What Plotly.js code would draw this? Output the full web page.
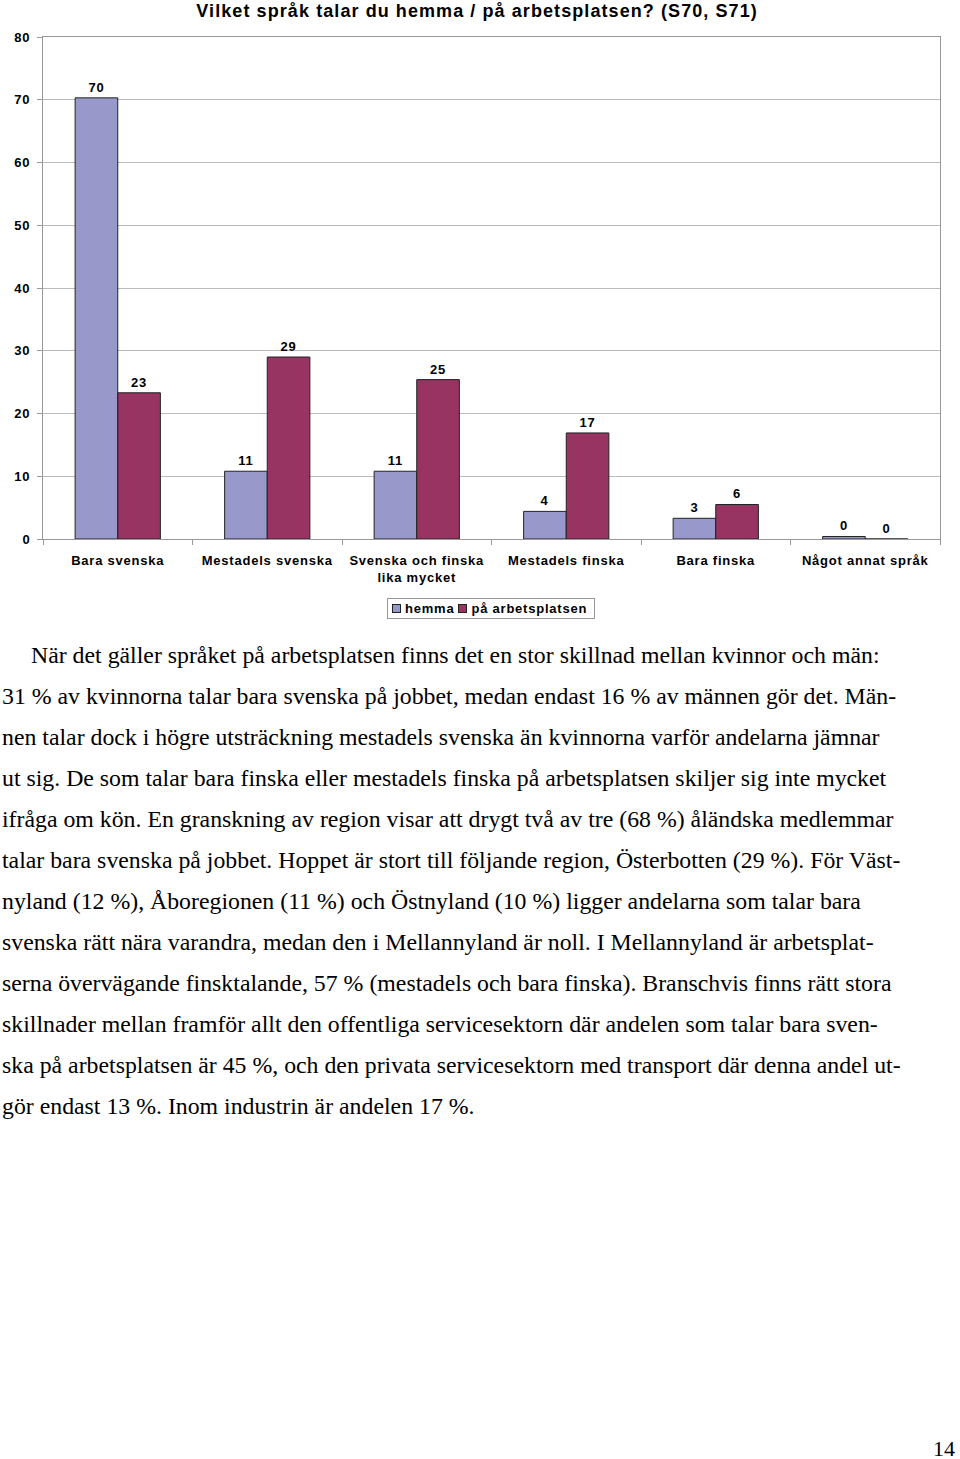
<!DOCTYPE html>
<html><head><meta charset="utf-8">
<script src="https://cdn.plot.ly/plotly-3.0.1.min.js"></script>
<style>
body{margin:0;padding:0;background:#fff;width:960px;height:1459px;position:relative;overflow:hidden}
#chart{position:absolute;left:0;top:0;width:960px;height:630px}
.ln{position:absolute;left:2px;font-family:"Liberation Serif","Times New Roman",serif;font-size:23.8px;color:#000;white-space:nowrap;line-height:26px}
#pg{position:absolute;right:5px;top:1436px;font-family:"Liberation Serif",serif;font-size:22px;line-height:26px}
#legend{position:absolute;left:387px;top:598px;width:206px;height:19px;border:1px solid #999;background:#fff;
  font-family:"Liberation Sans",Arial,sans-serif;font-weight:bold;font-size:13px;letter-spacing:0.06em;line-height:19px;white-space:nowrap}
#legend .sw{display:inline-block;width:7px;height:7px;border:1px solid #222;margin:0 4px 0 4px;vertical-align:0px}
</style></head>
<body>
<div id="chart"></div>
<div id="legend"></div>
<div id="text"></div>
<div id="pg">14</div>
<script>
const categories = ["Bara svenska","Mestadels svenska","Svenska och finska<br>lika mycket","Mestadels finska","Bara finska","Något annat språk"];
const hemma = [70.3, 10.8, 10.8, 4.4, 3.3, 0.4];
const arbetsplatsen = [23.3, 29.0, 25.4, 16.9, 5.5, 0];
const seriesNames = ["hemma","på arbetsplatsen"];
const yTicks = [0,10,20,30,40,50,60,70,80];
const titleText = "Vilket språk talar du hemma / på arbetsplatsen? (S70, S71)";
const paragraphLines = [
"När det gäller språket på arbetsplatsen finns det en stor skillnad mellan kvinnor och män:",
"31 % av kvinnorna talar bara svenska på jobbet, medan endast 16 % av männen gör det. Män-",
"nen talar dock i högre utsträckning mestadels svenska än kvinnorna varför andelarna jämnar",
"ut sig. De som talar bara finska eller mestadels finska på arbetsplatsen skiljer sig inte mycket",
"ifråga om kön. En granskning av region visar att drygt två av tre (68 %) åländska medlemmar",
"talar bara svenska på jobbet. Hoppet är stort till följande region, Österbotten (29 %). För Väst-",
"nyland (12 %), Åboregionen (11 %) och Östnyland (10 %) ligger andelarna som talar bara",
"svenska rätt nära varandra, medan den i Mellannyland är noll. I Mellannyland är arbetsplat-",
"serna övervägande finsktalande, 57 % (mestadels och bara finska). Branschvis finns rätt stora",
"skillnader mellan framför allt den offentliga servicesektorn där andelen som talar bara sven-",
"ska på arbetsplatsen är 45 %, och den privata servicesektorn med transport där denna andel ut-",
"gör endast 13 %. Inom industrin är andelen 17 %."
];

const font = {family:'"Liberation Sans", Arial, sans-serif', size:13, color:'#000'};
const boldFont = Object.assign({}, font, {weight:'bold'});
const colors = ['#9898CA','#973462'];
const traces = [hemma, arbetsplatsen].map((v,i)=>({
  type:'bar', name:seriesNames[i], x:categories, y:v,
  marker:{color:colors[i], line:{color:'#222', width:1}},
  text:v.map(d=>String(Math.round(d))), textposition:'outside',
  textfont:boldFont, cliponaxis:false
}));
const layout = {
  width:960, height:630,
  margin:{l:43, r:20, t:37, b:91, autoexpand:false},
  paper_bgcolor:'#fff', plot_bgcolor:'#fff',
  font:boldFont,
  title:{text:'<b>'+titleText+'</b>', font:{family:font.family, size:18, color:'#000'}, x:0.497, xanchor:'center', y:1-11/630, yanchor:'middle', yref:'container'},
  barmode:'group', bargap:0.43, bargroupgap:0,
  showlegend:false,
  xaxis:{showline:true, linecolor:'#999', linewidth:1, mirror:true, ticks:'outside', tickson:'boundaries', ticklen:5, tickcolor:'#999', tickfont:boldFont, ticklabelstandoff:9, showgrid:false, fixedrange:true, automargin:false},
  yaxis:{range:[0,80], tickvals:yTicks, showline:true, linecolor:'#999', linewidth:1, mirror:true, ticks:'outside', ticklen:5, tickcolor:'#999', ticklabelstandoff:4, gridcolor:'#bbb', gridwidth:1, tickfont:boldFont, zeroline:false, fixedrange:true, automargin:false}
};
Plotly.newPlot('chart', traces, layout, {displayModeBar:false, staticPlot:true}).then(()=>{
  document.querySelectorAll('#chart svg text').forEach(t=>{ t.style.letterSpacing='0.06em'; });
});

const leg = document.getElementById('legend');
seriesNames.forEach((n,i)=>{
  const sw = document.createElement('span'); sw.className='sw'; sw.style.background=colors[i];
  leg.appendChild(sw);
  const tx = document.createElement('span'); tx.textContent=n; leg.appendChild(tx);
});

const tdiv = document.getElementById('text');
paragraphLines.forEach((s,i)=>{
  const d = document.createElement('div');
  d.className='ln';
  d.textContent = s;
  d.style.top = (655 + 41*i - 13) + 'px';
  if(i===0) d.style.left='31px';
  tdiv.appendChild(d);
});
</script>
</body></html>
